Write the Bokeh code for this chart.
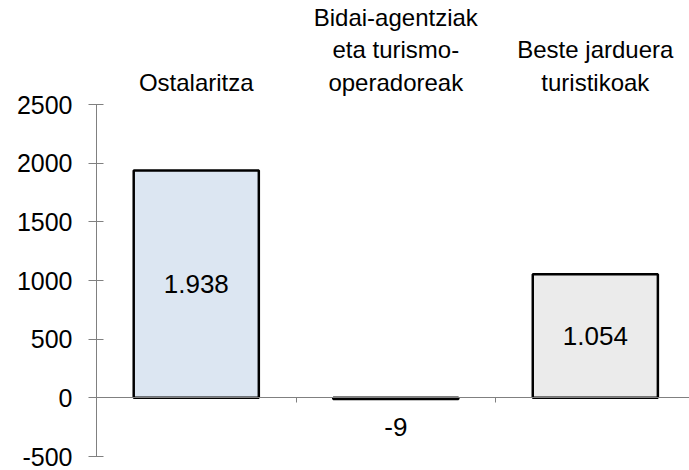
from bokeh.plotting import figure
from bokeh.models import Range1d, LinearAxis, FixedTicker, ColumnDataSource
from bokeh.core.properties import value
from bokeh.embed import file_html
from bokeh.resources import INLINE

categories = ["Ostalaritza", "Bidai-agentziak\neta turismo-\noperadoreak", "Beste jarduera\nturistikoak"]
values = [1938, -9, 1054]
colors = ["#dce6f2", "#dce6f2", "#ebebeb"]
y_ticks = [-500, 0, 500, 1000, 1500, 2000, 2500]

FONT = "Liberation Sans"

centers = [i + 0.5 for i in range(len(categories))]
boundaries = [float(i) for i in range(1, len(categories))]
labels = [f"{v:,}".replace(",", ".") for v in values]
label_y = [v / 2 if v > 200 else min(v, 0) for v in values]
label_off = [0 if v > 200 else 28 for v in values]

src = ColumnDataSource(dict(x=centers, top=values, color=colors, text=labels,
                            ly=label_y, off=label_off))

p = figure(width=689, height=470, x_range=Range1d(0, 2.972), y_range=Range1d(-500, 2500),
           x_axis_type=None, output_backend="svg", toolbar_location=None,
           min_border_left=96, min_border_right=0, min_border_top=100, min_border_bottom=14)
p.outline_line_color = None
p.grid.visible = False
p.background_fill_color = "white"

p.vbar(x="x", top="top", bottom=0, width=0.627, fill_color="color", line_color="black",
       line_width=2.5, source=src)

p.text(x="x", y="ly", text="text", y_offset="off", source=src, text_align="center",
       text_baseline="middle", text_font=value(FONT), text_font_size="26px", text_color="black")

# y axis
ya = p.yaxis[0]
ya.ticker = FixedTicker(ticks=y_ticks)
ya.major_label_overrides = {t: str(t) for t in y_ticks}
ya.minor_tick_line_color = None
ya.major_tick_in = 7
ya.major_tick_out = 8
ya.major_tick_line_color = "#808080"
ya.axis_line_color = "#808080"
ya.major_label_standoff = 16
ya.major_label_text_font = FONT
ya.major_label_text_font_size = "25px"
ya.major_label_text_color = "black"

# zero axis
za = LinearAxis(fixed_location=0, ticker=FixedTicker(ticks=boundaries),
                major_label_overrides={b: "" for b in boundaries})
za.major_tick_in = 0
za.major_tick_out = 5
za.minor_tick_line_color = None
za.major_tick_line_color = "#808080"
za.axis_line_color = "#808080"
za.major_label_text_font_size = "0px"
p.add_layout(za, "below")

# category labels
ta = LinearAxis(ticker=FixedTicker(ticks=centers),
                major_label_overrides={c: n for c, n in zip(centers, categories)})
ta.axis_line_color = None
ta.major_tick_line_color = None
ta.minor_tick_line_color = None
ta.major_label_standoff = 3
ta.major_label_text_font = FONT
ta.major_label_text_font_size = "24px"
ta.major_label_text_color = "black"
ta.major_label_text_line_height = 1.2
p.add_layout(ta, "above")

open("out.html", "w").write(file_html(p, INLINE))
